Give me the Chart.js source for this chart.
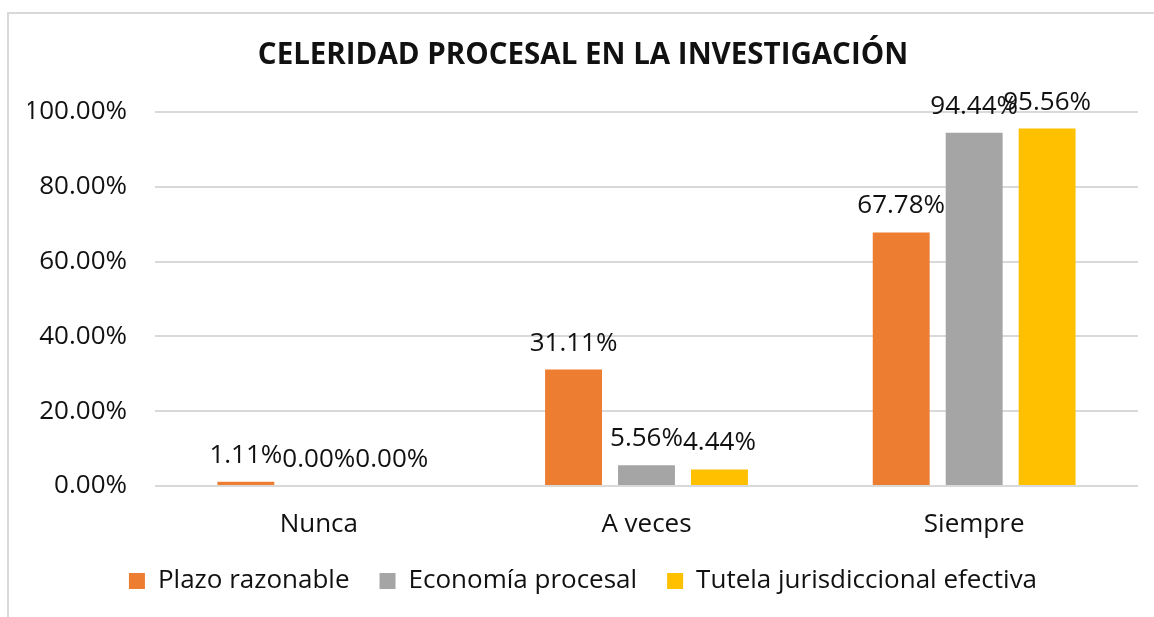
<!DOCTYPE html>
<html>
<head>
<meta charset="utf-8">
<script src="https://cdn.jsdelivr.net/npm/chart.js@4.4.1/dist/chart.umd.min.js"></script>
<style>
  body { margin: 0; background: #fff; }
  #wrap { position: relative; width: 1154px; height: 617px; overflow: hidden; }
  #marco { position: absolute; left: 7px; top: 12px; width: 1200px; height: 700px; border: 2px solid #d9d9d9; }
  canvas { position: absolute; left: 0; top: 0; }
</style>
</head>
<body>
<div id="wrap">
  <div id="marco"></div>
  <canvas id="grafico" width="1154" height="617"></canvas>
</div>
<script>
const categorias = ['Nunca', 'A veces', 'Siempre'];
const plazoRazonable = [1.11, 31.11, 67.78];
const economiaProcesal = [0.00, 5.56, 94.44];
const tutelaJurisdiccional = [0.00, 4.44, 95.56];
const ticksY = [0, 20, 40, 60, 80, 100];

const fuente = "'Open Sans', 'Noto Sans', sans-serif";
const colorTexto = '#111111';

// etiquetas de datos encima de cada barra
const etiquetas = {
    id: 'etiquetas',
    afterDatasetsDraw(chart) {
        const ctx = chart.ctx;
        ctx.save();
        ctx.font = '26px ' + fuente;
        ctx.fillStyle = colorTexto;
        ctx.textAlign = 'center';
        ctx.textBaseline = 'alphabetic';
        chart.data.datasets.forEach(function (ds, i) {
            chart.getDatasetMeta(i).data.forEach(function (bar, j) {
                ctx.fillText(ds.data[j].toFixed(2) + '%', bar.x, bar.y - 19);
            });
        });
        ctx.restore();
    }
};

const ctx = document.getElementById('grafico').getContext('2d');
const miGrafico = new Chart(ctx, {
    type: 'bar',
    data: {
        labels: categorias,
        datasets: [{
            label: 'Plazo razonable',
            data: plazoRazonable,
            backgroundColor: '#ED7D31'
        }, {
            label: 'Economía procesal',
            data: economiaProcesal,
            backgroundColor: '#A5A5A5'
        }, {
            label: 'Tutela jurisdiccional efectiva',
            data: tutelaJurisdiccional,
            backgroundColor: '#FFC000'
        }]
    },
    options: {
        responsive: false,
        animation: false,
        layout: {
            padding: { left: 28, right: 16, top: 0, bottom: 13 }
        },
        datasets: {
            bar: { categoryPercentage: 0.668, barPercentage: 0.78 }
        },
        plugins: {
            title: {
                display: true,
                text: 'CELERIDAD PROCESAL EN LA INVESTIGACIÓN',
                color: colorTexto,
                font: { family: fuente, size: 29.5, weight: 'bold' },
                padding: { top: 38, bottom: 38.5 }
            },
            legend: {
                position: 'bottom',
                labels: {
                    color: colorTexto,
                    font: { family: fuente, size: 26 },
                    boxWidth: 16,
                    boxHeight: 16,
                    padding: 30
                }
            },
            tooltip: { enabled: false }
        },
        scales: {
            x: {
                grid: { display: false },
                border: { display: false },
                ticks: {
                    color: colorTexto,
                    font: { family: fuente, size: 26 },
                    padding: 15
                },
                afterFit: function (scale) { scale.height = 52; }
            },
            y: {
                min: 0,
                max: 100,
                afterBuildTicks: function (scale) {
                    scale.ticks = ticksY.map(function (v) { return { value: v }; });
                },
                grid: { color: '#d9d9d9', lineWidth: 2, drawTicks: false },
                border: { display: false },
                ticks: {
                    color: colorTexto,
                    font: { family: fuente, size: 26 },
                    padding: 28,
                    callback: function (v) { return v.toFixed(2) + '%'; }
                },
                afterFit: function (scale) { scale.width = 127; }
            }
        }
    },
    plugins: [etiquetas]
});
</script>
</body>
</html>
